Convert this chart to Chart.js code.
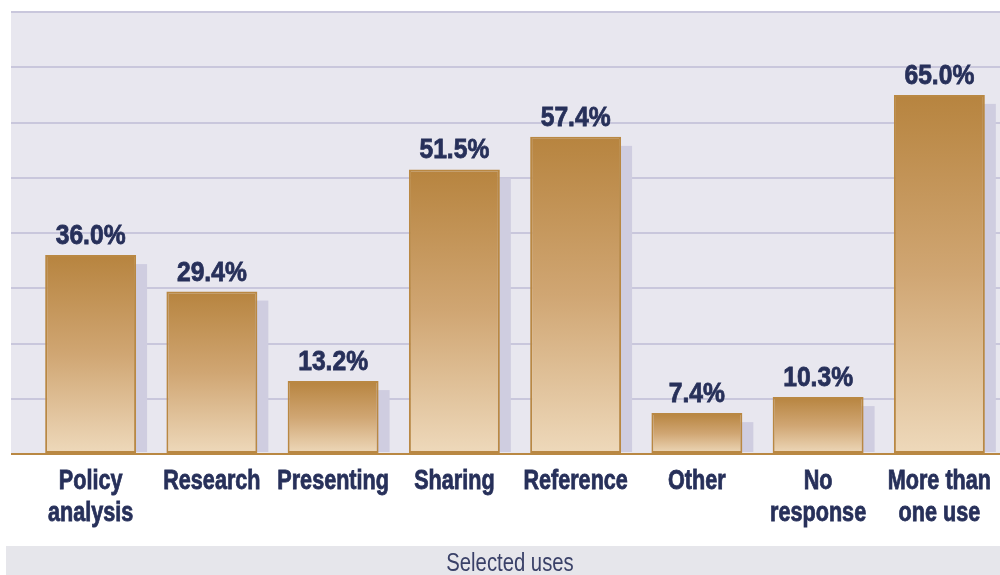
<!DOCTYPE html>
<html>
<head>
<meta charset="utf-8">
<script src="https://cdn.jsdelivr.net/npm/chart.js@4.4.1/dist/chart.umd.min.js"></script>
<style>
  html, body { margin: 0; padding: 0; background: #ffffff; }
  #wrap { width: 1000px; height: 575px; }
</style>
</head>
<body>
<div id="wrap"><canvas id="uses"></canvas></div>
<script>
var useLabels = [
    ["Policy", "analysis"],
    ["Research"],
    ["Presenting"],
    ["Sharing"],
    ["Reference"],
    ["Other"],
    ["No", "response"],
    ["More than", "one use"]
];
var usePercent = [36.0, 29.4, 13.2, 51.5, 57.4, 7.4, 10.3, 65.0];
var axisTitle = "Selected uses";

var fontFamily = "'Liberation Sans', Arial, sans-serif";
var navy = "#27305a";
var gold = "#b98843";

// draws text squeezed horizontally, to look like a condensed face
const narrowText = (ctx, text, x, y, squeeze, heavy) => {
    ctx.save();
    ctx.translate(x, y);
    ctx.scale(squeeze, 1);
    ctx.fillText(text, 0, 0);
    if (heavy) {
        ctx.lineWidth = heavy;
        ctx.strokeText(text, 0, 0);
    }
    ctx.restore();
};

// plot background, shadows, value labels, category labels and footer band
const decorPlugin = {
    id: "decor",
    beforeDraw: (chart) => {
        var ctx = chart.ctx;
        var area = chart.chartArea;
        ctx.save();
        ctx.fillStyle = "#e8e7ef";
        ctx.fillRect(11, area.top, area.right - 11, area.bottom - area.top);
        ctx.fillStyle = "#e6e6eb";
        ctx.fillRect(6, 546, chart.width - 6, chart.height - 546);
        ctx.restore();
    },
    beforeDatasetsDraw: (chart) => {
        var ctx = chart.ctx;
        ctx.save();
        ctx.fillStyle = "#cfcde0";
        chart.getDatasetMeta(0).data.forEach((bar) => {
            var left = bar.x - bar.width / 2 + 11;
            ctx.fillRect(left, bar.y + 9, bar.width, bar.base - bar.y - 10);
        });
        ctx.restore();
    },
    afterDraw: (chart) => {
        var ctx = chart.ctx;
        var xScale = chart.scales.x;
        ctx.save();
        ctx.fillStyle = navy;
        ctx.strokeStyle = navy;
        ctx.textAlign = "center";
        ctx.textBaseline = "alphabetic";

        // values above bars
        ctx.font = "bold 28px " + fontFamily;
        chart.getDatasetMeta(0).data.forEach((bar, i) => {
            narrowText(ctx, usePercent[i].toFixed(1) + "%", bar.x, bar.y - 11, 0.88, 0.8);
        });

        // category labels
        ctx.font = "bold 27px " + fontFamily;
        useLabels.forEach((lines, i) => {
            var x = xScale.getPixelForTick(i);
            lines.forEach((line, k) => {
                narrowText(ctx, line, x, chart.chartArea.bottom + 35 + k * 32, 0.8, 0.8);
            });
        });

        // axis title in the footer band
        ctx.fillStyle = "#3a4168";
        ctx.font = "26px " + fontFamily;
        narrowText(ctx, axisTitle, 510, 571, 0.78, 0);
        ctx.restore();
    }
};

const barGradient = (context) => {
    var chart = context.chart;
    if (!chart.chartArea) return "#c99a5c";
    var yScale = chart.scales.y;
    var top = yScale.getPixelForValue(context.raw);
    var bottom = yScale.getPixelForValue(0);
    var g = chart.ctx.createLinearGradient(0, top, 0, bottom);
    g.addColorStop(0, "#b7843f");
    g.addColorStop(0.5, "#d0a673");
    g.addColorStop(1, "#eed9bb");
    return g;
};

new Chart("uses", {
    type: "bar",
    data: {
        labels: useLabels.map((l) => l.join(" ")),
        datasets: [{
            data: usePercent,
            backgroundColor: barGradient,
            borderColor: gold,
            borderWidth: 2,
            borderSkipped: false,
            categoryPercentage: 0.75,
            barPercentage: 1.0
        }]
    },
    options: {
        responsive: true,
        maintainAspectRatio: false,
        animation: false,
        layout: {
            padding: { left: 11, right: 0, top: 12, bottom: 0 }
        },
        plugins: {
            legend: { display: false },
            tooltip: { enabled: false }
        },
        scales: {
            y: {
                min: 0,
                max: 80,
                ticks: { display: false, stepSize: 10 },
                border: { display: false },
                grid: {
                    drawTicks: true,
                    tickLength: 19,
                    lineWidth: 2,
                    color: (c) => (c.tick && c.tick.value === 0) ? gold : "#c9c7dc"
                }
            },
            x: {
                grid: { display: false },
                border: { display: false },
                ticks: { display: false },
                afterFit: (scale) => { scale.height = 121; }
            }
        }
    },
    plugins: [decorPlugin]
});
</script>
</body>
</html>
